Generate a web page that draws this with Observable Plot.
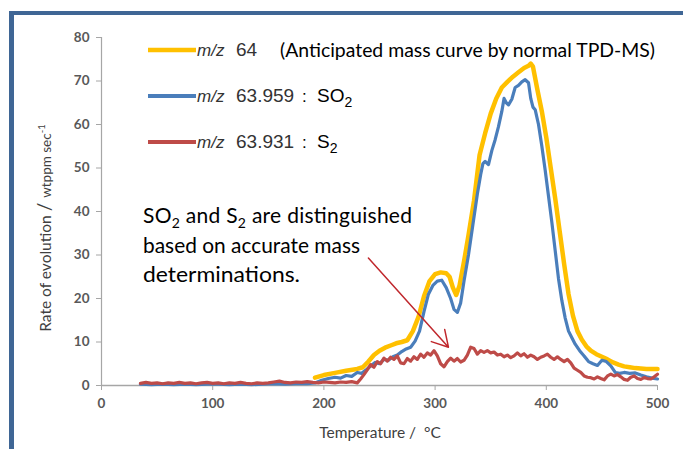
<!DOCTYPE html>
<html><head><meta charset="utf-8">
<script src="https://cdn.jsdelivr.net/npm/d3@7"></script>
<script src="https://cdn.jsdelivr.net/npm/@observablehq/plot@0.6"></script>
<style>
body{margin:0;background:#fff;}
#wrap{position:relative;width:683px;height:449px;overflow:hidden;}
#frame{position:absolute;left:9px;top:11px;width:800px;height:600px;border-top:4px solid #3F6695;border-left:5px solid #3F6695;}
#chart{position:absolute;left:0;top:0;}
</style></head><body>
<div id="wrap"><div id="frame"></div><div id="chart"></div></div>
<script>
// Tick labels
const xTicks = [0, 100, 200, 300, 400, 500];
const yTicks = [0, 10, 20, 30, 40, 50, 60, 70, 80];

// m/z 64 (anticipated, normal TPD-MS)
const yellowT = [192,200,210,220,230,235,240,245,250,255,260,265,270,275,280,285,290,295,300,305,310,313,316,319,322,326,330,335,340,345,350,355,360,365,370,375,380,384,386,388,392,396,400,404,408,412,416,420,424,428,432,436,440,445,450,455,460,465,470,475,480,485,490,495,500];
const yellowV = [1.8,2.4,2.9,3.4,3.8,4.2,5.5,7.0,8.0,8.7,9.2,9.7,10.0,10.4,12.5,15.7,20.5,24.0,25.6,26.0,25.8,25.0,22.5,20.8,23.0,28.5,34.5,42.5,53,58,62.5,66,68.5,69.8,71,72,73,73.5,74,73.3,68,63,57,50,43,35.5,28,21,16,12.5,10.5,9.0,8.0,7.2,6.6,6.0,5.3,4.8,4.4,4.2,4.0,3.9,3.8,3.8,3.8];

// m/z 63.959 : SO2
const blueT = [35,45,55,65,75,85,95,105,115,125,135,145,155,165,175,185,192,198,204,210,215,220,225,230,234,238,242,246,250,254,258,262,266,270,274,278,282,286,290,294,298,302,306,310,314,317,320,323,326,330,334,338,341,343,345,348,351,354,357,360,362,364,366,369,372,375,378,381,384,386,388,390,393,396,399,402,405,408,411,414,417,420,423,426,430,434,438,442,446,450,454,458,462,466,470,475,480,485,490,495,500];
const blueV = [0.3,0.2,0.3,0.2,0.3,0.2,0.3,0.3,0.2,0.3,0.2,0.3,0.4,0.3,0.4,0.4,0.6,1.2,1.6,1.9,1.7,2.3,2.1,3.0,2.8,3.6,4.5,5.3,5.0,6.0,5.8,6.6,7.0,7.8,8.4,8.8,10.2,12.5,17.0,21.0,23.0,24.0,24.2,22.5,20.0,17.5,16.8,19.0,24.0,30.0,37.0,44.0,48.5,51.0,51.5,50.8,54.0,56.5,59.5,63.0,66.0,65.0,64.5,65.8,68.5,69.0,69.8,70.3,69.6,66.0,64.0,63.4,60.0,55.0,49.5,43.5,37.5,31.0,24.5,19.5,15.5,12.5,11.0,9.5,8.0,6.8,5.5,5.0,4.6,5.8,5.5,4.5,3.0,2.8,3.0,2.8,2.9,2.4,2.0,1.7,1.5];

// m/z 63.931 : S2
const redT = [35,40,45,50,55,60,65,70,75,80,85,90,95,100,105,110,115,120,125,130,135,140,145,150,155,160,165,170,175,180,185,190,195,200,205,210,215,220,225,230,233,236,239,242,245,248,251,254,257,260,263,266,269,272,275,278,281,284,287,290,293,296,299,302,305,308,311,314,317,320,323,326,329,332,335,338,341,344,347,350,353,356,359,362,365,368,371,374,377,380,383,386,389,392,395,398,401,404,407,410,413,416,419,422,425,428,431,434,437,440,443,446,449,452,455,458,461,464,467,470,473,476,479,482,485,488,491,494,497,500];
const redV = [0.5,0.7,0.5,0.6,0.4,0.6,0.5,0.7,0.5,0.6,0.4,0.6,0.7,0.5,0.6,0.4,0.6,0.5,0.7,0.5,0.4,0.6,0.5,0.6,0.8,1.0,0.7,0.6,0.8,0.7,0.9,0.7,0.6,0.8,0.7,0.6,0.8,0.7,0.9,0.6,1.5,2.5,3.6,4.8,4.2,5.5,5.0,6.3,5.6,6.5,6.0,6.8,5.2,5.0,6.2,5.6,6.6,6.0,7.2,6.5,7.5,7.0,8.0,6.8,5.0,4.3,5.5,6.3,5.6,6.2,5.4,5.8,7.0,8.8,8.5,7.2,8.0,7.6,8.0,7.5,7.7,7.0,7.2,6.6,7.0,6.4,6.8,7.5,6.8,7.3,6.5,7.0,6.6,6.0,6.5,6.8,7.2,6.5,6.0,6.6,6.0,5.5,6.0,5.2,4.0,3.5,3.0,2.2,1.9,1.8,1.5,2.0,1.6,1.3,2.2,2.6,2.2,2.5,2.0,1.4,1.2,1.9,2.2,1.6,1.4,1.8,1.6,1.5,2.0,2.6];

// annotation arrow (data coords)
const arrowFromT = [240], arrowFromV = [29.3], arrowToT = [312], arrowToV = [8.8];

const toRows = (T, V) => T.map((t, i) => ({T: t, v: V[i]}));
const yellow = toRows(yellowT, yellowV);
const blue = toRows(blueT, blueV);
const red = toRows(redT, redV);
const arrows = arrowFromT.map((t, i) => ({x1: t, y1: arrowFromV[i], x2: arrowToT[i], y2: arrowToV[i]}));

const axisGray = "#A6A6A6";
const plot = Plot.plot({
  width: 683, height: 449,
  marginLeft: 101, marginRight: 26, marginTop: 37, marginBottom: 64,
  style: {background: "transparent", fontFamily: "Lato, sans-serif", fontSize: "13.5px"},
  x: {domain: [0, 500]},
  y: {domain: [0, 80]},
  marks: [
    Plot.axisX({ticks: xTicks, tickSize: 5, tickPadding: 8, stroke: axisGray, fill: "#595959", fontWeight: "bold", label: null}),
    Plot.axisY({ticks: yTicks, tickSize: 5, tickPadding: 7, stroke: axisGray, fill: "#595959", fontWeight: "bold", label: null}),
    Plot.ruleY([0], {stroke: axisGray, strokeWidth: 1.5}),
    Plot.ruleX([0], {stroke: axisGray, strokeWidth: 1.2}),
    Plot.line(yellow, {x: "T", y: "v", stroke: "#FFC000", strokeWidth: 4.5}),
    Plot.line(blue, {x: "T", y: "v", stroke: "#4A7EBB", strokeWidth: 3.2}),
    Plot.line(red, {x: "T", y: "v", stroke: "#BE4B48", strokeWidth: 3.2}),
    Plot.arrow(arrows, {x1: "x1", y1: "y1", x2: "x2", y2: "y2", stroke: "#C0282D", strokeWidth: 1.5, headLength: 18, bend: 0})
  ]
});
document.getElementById("chart").appendChild(plot);

const svg = d3.select(plot);
const g = svg.append("g").attr("text-anchor", "start");

// Legend
const legend = [
  {color: "#FFC000", w: 4.5, y: 50, num: "64"},
  {color: "#4A7EBB", w: 4, y: 96, num: "63.959", sp: "SO"},
  {color: "#BE4B48", w: 4, y: 142, num: "63.931", sp: "S"}
];
legend.forEach(d => {
  g.append("line").attr("x1", 148).attr("x2", 196).attr("y1", d.y).attr("y2", d.y)
    .attr("stroke", d.color).attr("stroke-width", d.w);
  const t = g.append("text").attr("y", d.y + 6).attr("font-family", "'Liberation Sans', Arial, sans-serif")
    .attr("font-size", 17).attr("fill", "#333");
  t.append("tspan").attr("x", 197).attr("font-style", "italic").text("m/z");
  t.append("tspan").attr("x", 236).attr("font-size", 19).text(d.num);
  if (d.sp) {
    t.append("tspan").attr("x", 302).attr("fill", "#000").text(":");
    t.append("tspan").attr("x", 317).attr("fill", "#000").attr("font-size", 19).text(d.sp);
    t.append("tspan").attr("font-size", 14).attr("dy", 5).attr("fill", "#000").text("2");
  }
});
g.append("text").attr("x", 280).attr("y", 57).attr("font-family", "Lato, sans-serif")
  .attr("font-size", 18.5).attr("fill", "#000")
  .attr("textLength", 375).attr("lengthAdjust", "spacingAndGlyphs")
  .text("(Anticipated mass curve by normal TPD-MS)");

// Annotation text
const ann = g.append("g").attr("font-family", "Lato, sans-serif").attr("font-size", 21).attr("fill", "#000");
const l1 = ann.append("text").attr("x", 143).attr("y", 223).attr("textLength", 269).attr("lengthAdjust", "spacing");
l1.append("tspan").text("SO");
l1.append("tspan").attr("font-size", 14).attr("dy", 5).text("2");
l1.append("tspan").attr("dy", -5).text(" and S");
l1.append("tspan").attr("font-size", 14).attr("dy", 5).text("2");
l1.append("tspan").attr("dy", -5).text(" are distinguished");
ann.append("text").attr("x", 143).attr("y", 253).attr("textLength", 217).attr("lengthAdjust", "spacingAndGlyphs").text("based on accurate mass");
ann.append("text").attr("x", 143).attr("y", 282).attr("textLength", 157).attr("lengthAdjust", "spacingAndGlyphs").text("determinations.");

// Axis titles
g.append("text").attr("x", 380).attr("y", 438).attr("text-anchor", "middle")
  .attr("font-family", "Lato, sans-serif").attr("font-size", 15.5).attr("fill", "#404040")
  .text("Temperature /  °C");
const yt = g.append("text").attr("transform", "translate(51,228) rotate(-90)").attr("text-anchor", "middle")
  .attr("font-family", "Lato, sans-serif").attr("font-size", 15.5).attr("fill", "#404040");
yt.append("tspan").text("Rate of evolution ");
yt.append("tspan").attr("font-size", 19).text("/ ");
yt.append("tspan").attr("font-size", 13.5).text("wtppm sec");
yt.append("tspan").attr("font-size", 9.5).attr("dy", -6).text("-1");
</script>
</body></html>
